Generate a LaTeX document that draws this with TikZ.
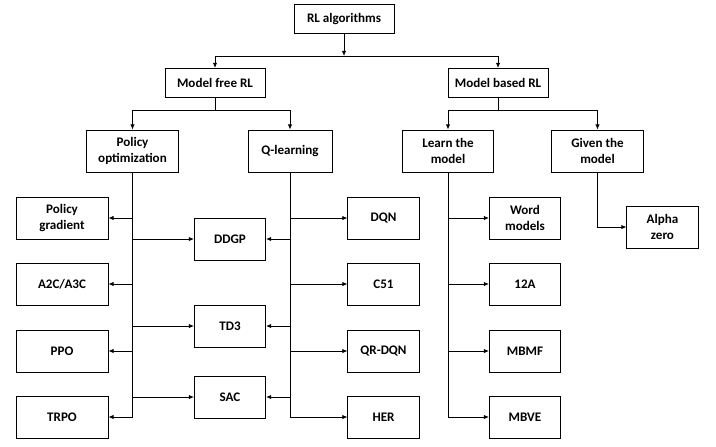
\documentclass[tikz,border=0pt]{standalone}
\usepackage{fontspec}
\setmainfont{Carlito}
\usetikzlibrary{%
   arrows.meta,%
   calc,%
   positioning}

\begin{document}
\begin{tikzpicture}
[x=0.25mm, y=-0.25mm, font=\fontsize{9.3}{10.8}\selectfont\bfseries,
 >={Latex[length=1.3mm,width=1.1mm]},
 typeTop/.style={rectangle,draw,fill=white,line width=0.6pt,inner sep=0pt,minimum width=25mm,minimum height=7.3mm,align=center},
 typeMid/.style={rectangle,draw,fill=white,line width=0.6pt,inner sep=0pt,minimum width=22.8mm,minimum height=10.5mm,align=center},
 typeWide/.style={rectangle,draw,fill=white,line width=0.6pt,inner sep=0pt,minimum width=23mm,minimum height=10.5mm,align=center},
 typeLeaf/.style={rectangle,draw,fill=white,line width=0.6pt,inner sep=0pt,minimum width=17.8mm,minimum height=10.5mm,align=center},
 link/.style={line width=0.6pt},
 hv path/.style={line width=0.6pt, to path={-| (\tikztotarget)}},
 vh path/.style={line width=0.6pt, to path={|- (\tikztotarget)}}]
\useasboundingbox (0,0) rectangle (716,446);
% top levels
\node[typeTop]  (RL)   at (344  , 19) {RL algorithms};
\node[typeTop]  (MF)   at (215  , 83) {Model free RL};
\node[typeTop]  (MB)   at (498  , 83) {Model based RL};
\node[typeMid]  (PO)   at (132.5,151) {Policy\\optimization};
\node[typeMid,minimum width=21mm] (QL) at (290,151) {Q-learning};
\node[typeMid]  (LM)   at (448  ,151) {Learn the\\model};
\node[typeMid]  (GM)   at (597.5,151) {Given the\\model};
% policy optimization leaves
\node[typeWide] (PG)   at ( 62  ,218) {Policy\\gradient};
\node[typeWide] (A2C)  at ( 62  ,284) {A2C/A3C};
\node[typeWide] (PPO)  at ( 62  ,351) {PPO};
\node[typeWide] (TRPO) at ( 62  ,417) {TRPO};
% shared leaves
\node[typeLeaf] (DDGP) at (230  ,239) {DDGP};
\node[typeLeaf] (TD3)  at (230  ,326) {TD3};
\node[typeLeaf] (SAC)  at (230  ,397) {SAC};
% q-learning leaves
\node[typeLeaf] (DQN)  at (383.5,218) {DQN};
\node[typeLeaf] (C51)  at (383.5,284) {C51};
\node[typeLeaf] (QRDQN) at (383.5,351) {QR-DQN};
\node[typeLeaf] (HER)  at (383.5,417) {HER};
% model based leaves
\node[typeLeaf] (WM)   at (525  ,218) {Word\\models};
\node[typeLeaf] (I2A)  at (525  ,284) {12A};
\node[typeLeaf] (MBMF) at (525  ,351) {MBMF};
\node[typeLeaf] (MBVE) at (525  ,417) {MBVE};
\node[typeLeaf] (AZ)   at (662.5,227) {Alpha\\zero};
\coordinate (RLsplit) at (344  , 56);
\coordinate (MFsplit) at (215  ,110);
\coordinate (MBsplit) at (498  ,110);
\coordinate (POend)   at (132.5,417);
\coordinate (QLend)   at (290  ,417);
\coordinate (LMend)   at (448  ,417);
\path (RL.south)  edge[link,->] (RLsplit)
      (RLsplit)   edge[hv path,->] (MF.north)
                  edge[hv path,->] (MB.north)
      (MF.south)  edge[link] (MFsplit)
      (MFsplit)   edge[hv path,->] (PO.north)
                  edge[hv path,->] (QL.north)
      (MB.south)  edge[link] (MBsplit)
      (MBsplit)   edge[hv path,->] (LM.north)
                  edge[hv path,->] (GM.north)
      (PO.south)  edge[link] (POend)
      (QL.south)  edge[link] (QLend)
      (LM.south)  edge[link] (LMend)
      (GM.south)  edge[vh path,->] (AZ.west);
% horizontal branches
\foreach \leaf in {PG,A2C,PPO,TRPO}
  \draw[link,->] (POend |- \leaf.east) -- (\leaf.east);
\foreach \leaf in {DDGP,TD3,SAC}
  \draw[link,->] (POend |- \leaf.west) -- (\leaf.west);
\foreach \leaf in {DDGP,TD3,SAC}
  \draw[link,->] (QLend |- \leaf.east) -- (\leaf.east);
\foreach \leaf in {DQN,C51,QRDQN,HER}
  \draw[link,->] (QLend |- \leaf.west) -- (\leaf.west);
\foreach \leaf in {WM,I2A,MBMF,MBVE}
  \draw[link,->] (LMend |- \leaf.west) -- (\leaf.west);
\end{tikzpicture}
\end{document}
